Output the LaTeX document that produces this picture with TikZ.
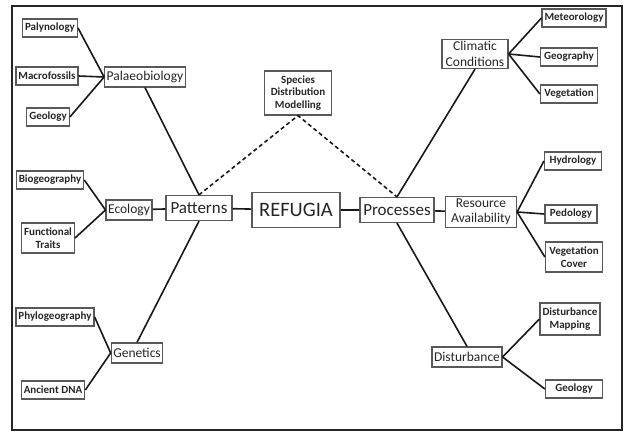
\documentclass[tikz,border=0pt]{standalone}
\usepackage{fontspec}
\setmainfont{Carlito}
\usetikzlibrary{positioning}

\begin{document}
\begin{tikzpicture}[
    x=1pt, y=-1pt,
    leaf/.style={rectangle, draw=black!65, text=black!85, line width=1.2pt, font=\fontsize{11}{12.5}\selectfont\bfseries, align=center, inner sep=2.5pt, minimum height=18pt},
    topic/.style={rectangle, draw=black!65, text=black!85, line width=1.2pt, font=\fontsize{13.5}{15.5}\selectfont, align=center, inner sep=2pt, minimum height=20pt},
    hub/.style={topic, font=\fontsize{17}{19}\selectfont, minimum height=25pt},
    core/.style={topic, font=\fontsize{20.5}{23}\selectfont, minimum width=88pt, minimum height=35pt},
    link/.style={line width=1.6pt, black!90},
    dlink/.style={line width=1.6pt, black!90, dash pattern=on 4pt off 3pt}
]
    \useasboundingbox (0,0) rectangle (627,432);
    \draw[line width=2.4pt, black!85] (12,6) rectangle (622,430);

    % centre
    \node[core] (refugia) at (296,210) {REFUGIA};
    \node[hub, minimum width=66pt] (patterns) at (199,208) {Patterns};
    \node[hub, minimum width=74pt] (processes) at (397,210) {Processes};
    \node[leaf, minimum width=67pt, minimum height=44pt] (sdm) at (298,93) {Species\\Distribution\\Modelling};

    % patterns side
    \node[topic] (palaeo) at (145,77) {Palaeobiology};
    \node[topic] (ecology) at (129,210) {Ecology};
    \node[topic] (genetics) at (137,353) {Genetics};
    \node[leaf] (palyn) at (50,28) {Palynology};
    \node[leaf] (macro) at (47,76) {Macrofossils};
    \node[leaf] (geolA) at (48,117) {Geology};
    \node[leaf] (biogeo) at (50,180) {Biogeography};
    \node[leaf, minimum height=30pt] (traits) at (48,238) {Functional\\Traits};
    \node[leaf] (phylo) at (55,317) {Phylogeography};
    \node[leaf] (dna) at (53,390) {Ancient DNA};

    % processes side
    \node[topic, minimum width=66pt] (climatic) at (475,54) {Climatic\\Conditions};
    \node[topic, minimum width=71pt] (resource) at (481,212) {Resource\\Availability};
    \node[topic] (disturb) at (467,357) {Disturbance};
    \node[leaf, minimum width=57pt] (meteo) at (574,18) {Meteorology};
    \node[leaf, minimum width=57pt] (geog) at (569,57) {Geography};
    \node[leaf, minimum width=57pt] (veget) at (569,94) {Vegetation};
    \node[leaf, minimum width=57pt] (hydro) at (573,161) {Hydrology};
    \node[leaf, minimum width=52pt] (pedo) at (571,214) {Pedology};
    \node[leaf, minimum width=57pt, minimum height=30pt] (vegcov) at (574,257) {Vegetation\\Cover};
    \node[leaf, minimum height=32pt] (distmap) at (570,319) {Disturbance\\Mapping};
    \node[leaf, minimum width=57pt] (geolB) at (574,389) {Geology};

    % connectors
    \foreach \c in {palyn,macro,geolA} \draw[link] (\c.east) -- (palaeo.west);
    \foreach \c in {biogeo,traits} \draw[link] (\c.east) -- (ecology.west);
    \foreach \c in {phylo,dna} \draw[link] (\c.east) -- (genetics.west);
    \foreach \c in {meteo,geog,veget} \draw[link] (climatic.east) -- (\c.west);
    \foreach \c in {hydro,pedo,vegcov} \draw[link] (resource.east) -- (\c.west);
    \foreach \c in {distmap,geolB} \draw[link] (disturb.east) -- (\c.west);

    \draw[link] (ecology) -- (patterns);
    \draw[link] (patterns) -- (refugia);
    \draw[link] (refugia) -- (processes);
    \draw[link] (processes) -- (resource);
    \draw[link] (palaeo.south) -- (patterns.north);
    \draw[link] (genetics.north) -- (patterns.south);
    \draw[link] (climatic.south) -- (processes.north);
    \draw[link] (processes.south) -- (disturb.north);
    \draw[dlink] (patterns.north) -- (sdm.south) -- (processes.north);
\end{tikzpicture}
\end{document}
